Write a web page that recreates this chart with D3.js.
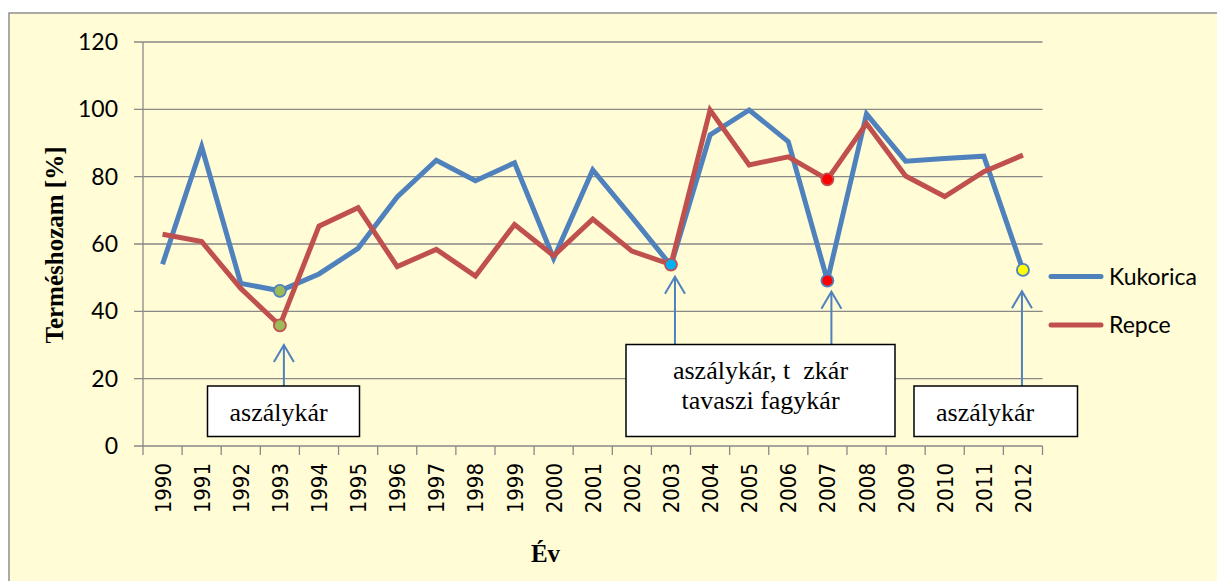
<!DOCTYPE html>
<html>
<head>
  <meta charset="utf-8">
  <title>Terméshozam</title>
  <script src="https://d3js.org/d3.v7.min.js"></script>
  <style>
    body { margin: 0; background: #fff; }
    .grid line { stroke: #898989; stroke-width: 1.3; }
    .tick-y { font-family: Lato, "Open Sans", sans-serif; font-size: 23px; fill: #000; }
    .tick-x { font-family: "DejaVu Sans Condensed", "DejaVu Sans", sans-serif; font-size: 22px; fill: #000; }
    .title { font-family: "Liberation Serif", "Times New Roman", serif; font-weight: bold; font-size: 25px; }
    .note { font-family: "Liberation Serif", "Times New Roman", serif; font-size: 26px; white-space: pre; }
    .legend { font-family: Lato, "Open Sans", sans-serif; font-size: 23px; }
  </style>
</head>
<body>
<div id="chart"></div>
<script>

const width = 1217;
const height = 581;

// data
const years = d3.range(1990, 2013).map(String);
const kukorica = [54.0, 88.9, 48.3, 46.1, 51.1, 58.7, 74.0, 84.9, 78.8, 84.1, 55.7, 82.0,
                  68.0, 53.6, 92.4, 99.8, 90.4, 49.1, 98.6, 84.6, 85.4, 86.1, 52.3];
const repce = [62.9, 60.7, 46.8, 35.8, 65.3, 70.8, 53.3, 58.4, 50.5, 65.8, 56.5, 67.4,
               57.9, 53.9, 99.8, 83.5, 85.9, 79.2, 95.8, 80.2, 74.1, 81.5, 86.4];
const yTicks = [0, 20, 40, 60, 80, 100, 120];

const seriesNames = ["Kukorica", "Repce"];
const seriesColors = ["#4f81bd", "#c0504d"];

// highlighted points: [series index, year, fill]
const highlights = [
  [0, "1993", "#9bbb59"], [1, "1993", "#9bbb59"],
  [1, "2003", "#00b0f0"],
  [0, "2007", "#ff0000"], [1, "2007", "#ff0000"],
  [0, "2012", "#ffff00"]
];

// annotation arrows: year, tip value, base value
const arrows = [
  ["1993", 30.0, 17.8],
  ["2003", 50.3, 30.2],
  ["2007", 45.8, 30.2],
  ["2012", 46.0, 17.8]
];
const arrowShift = [4, 4, 4, -1];

// annotation boxes: text lines
const notes = [
  ["aszálykár"],
  ["aszálykár, t  zkár", "tavaszi fagykár"],
  ["aszálykár"]
];
// box layout: x, y, w, h, text anchor
const noteBoxes = [
  {x: 207.5, y: 386, w: 152, h: 50.5, anchor: "start"},
  {x: 626, y: 344.5, w: 269, h: 92, anchor: "middle"},
  {x: 914, y: 386, w: 163.5, h: 50.5, anchor: "start"}
];

const plot = {left: 143, right: 1042.5, top: 42, bottom: 446};

const x = d3.scaleBand().domain(years).range([plot.left, plot.right]).padding(0);
const y = d3.scaleLinear().domain([0, 120]).range([plot.bottom, plot.top]);
const cx = d => x(d) + x.bandwidth() / 2;

const svg = d3.select("#chart").append("svg")
    .attr("width", width)
    .attr("height", height);

// background panel
svg.append("rect")
    .attr("x", 9).attr("y", 13)
    .attr("width", width + 10).attr("height", height + 10)
    .attr("fill", "#fffcd6")
    .attr("stroke", "#8f8f8f")
    .attr("stroke-width", 1.5);

// horizontal gridlines + y ticks
const grid = svg.append("g").attr("class", "grid");
grid.selectAll("line.h")
  .data(yTicks)
  .enter().append("line")
    .attr("x1", plot.left - 9).attr("x2", plot.right)
    .attr("y1", d => y(d)).attr("y2", d => y(d));

// y axis line
grid.append("line")
    .attr("x1", plot.left).attr("x2", plot.left)
    .attr("y1", plot.top).attr("y2", plot.bottom);

// x ticks at band edges
const edges = years.map(d => x(d)).concat([plot.right]);
grid.selectAll("line.xt")
  .data(edges)
  .enter().append("line")
    .attr("x1", d => d).attr("x2", d => d)
    .attr("y1", plot.bottom).attr("y2", plot.bottom + 9);

svg.append("g").selectAll("text")
  .data(yTicks)
  .enter().append("text")
    .attr("class", "tick-y")
    .attr("x", 118)
    .attr("y", d => y(d))
    .attr("dy", "0.35em")
    .attr("text-anchor", "end")
    .text(d => d);

svg.append("g").selectAll("text")
  .data(years)
  .enter().append("text")
    .attr("class", "tick-x")
    .attr("transform", d => `translate(${cx(d) + 8},463) rotate(-90)`)
    .attr("text-anchor", "end")
    .text(d => d);

// axis titles
svg.append("text")
    .attr("class", "title")
    .attr("transform", "translate(63,245) rotate(-90)")
    .attr("text-anchor", "middle")
    .text("Terméshozam [%]");

svg.append("text")
    .attr("class", "title")
    .attr("x", 545.5).attr("y", 562)
    .attr("text-anchor", "middle")
    .text("Év");

// lines
const line = d3.line()
    .x((d, i) => cx(years[i]))
    .y(d => y(d));

[kukorica, repce].forEach((s, i) => {
  svg.append("path")
      .datum(s)
      .attr("fill", "none")
      .attr("stroke", seriesColors[i])
      .attr("stroke-width", 5)
      .attr("stroke-linejoin", "miter")
      .attr("d", line);
});

// highlighted markers
const seriesData = [kukorica, repce];
svg.append("g").selectAll("circle")
  .data(highlights)
  .enter().append("circle")
    .attr("cx", d => cx(d[1]))
    .attr("cy", d => y(seriesData[d[0]][years.indexOf(d[1])]))
    .attr("r", 6)
    .attr("fill", d => d[2])
    .attr("stroke", d => seriesColors[d[0]])
    .attr("stroke-width", 1.8);

// arrows
const arr = svg.append("g")
    .attr("stroke", "#4f81bd")
    .attr("stroke-width", 2)
    .attr("fill", "none");

arrows.forEach((a, i) => {
  const ax = cx(a[0]) + arrowShift[i];
  const tip = y(a[1]);
  arr.append("line")
      .attr("x1", ax).attr("x2", ax)
      .attr("y1", tip).attr("y2", y(a[2]));
  arr.append("path")
      .attr("d", `M${ax - 10},${tip + 17}L${ax},${tip}L${ax + 10},${tip + 17}`);
});

// note boxes
noteBoxes.forEach((b, i) => {
  const g = svg.append("g");
  g.append("rect")
      .attr("x", b.x).attr("y", b.y)
      .attr("width", b.w).attr("height", b.h)
      .attr("fill", "#fff")
      .attr("stroke", "#000")
      .attr("stroke-width", 1.5);
  const lines = notes[i];
  const tx = b.anchor === "middle" ? b.x + b.w / 2 : b.x + 22;
  const firstBase = lines.length > 1 ? b.y + 34 : b.y + 34.5;
  lines.forEach((t, j) => {
    g.append("text")
        .attr("class", "note")
        .attr("x", tx)
        .attr("y", firstBase + j * 30)
        .attr("text-anchor", b.anchor)
        .text(t);
  });
});

// legend
const legend = svg.append("g");
seriesNames.forEach((n, i) => {
  const ly = 276.5 + i * 48.5;
  legend.append("line")
      .attr("x1", 1051).attr("x2", 1101)
      .attr("y1", ly).attr("y2", ly)
      .attr("stroke", seriesColors[i])
      .attr("stroke-width", 5)
      .attr("stroke-linecap", "round");
  legend.append("text")
      .attr("class", "legend")
      .attr("x", 1109)
      .attr("y", ly + 8.3)
      .text(n);
});

</script>
</body>
</html>
